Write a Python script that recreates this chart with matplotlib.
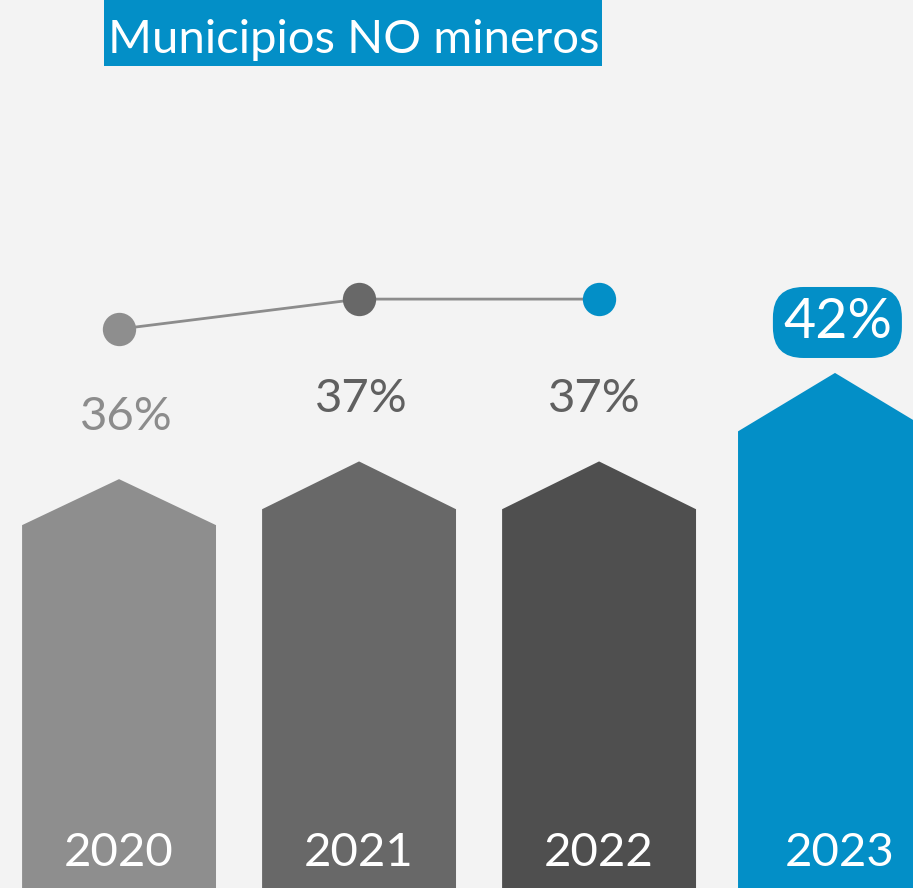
import matplotlib
matplotlib.use("Agg")
import matplotlib.pyplot as plt
from matplotlib.patches import Polygon, Rectangle

# Data
years = ["2020", "2021", "2022", "2023"]
shares = [36, 37, 37, 42]               # % of non-mining municipalities
trend_years = ["2020", "2021", "2022"]
trend_values = [36, 37, 37]
value_labels = ["36%", "37%", "37%", "42%"]
title = "Municipios NO mineros"

# Style
BG = "#f3f3f3"
BLUE = "#038fc7"
bar_colors = ["#8e8e8e", "#686868", "#4f4f4f", BLUE]
label_colors = ["#8c8c8c", "#606060", "#606060", "white"]
dot_colors = ["#8e8e8e", "#686868", BLUE]
bar_x = [0, 1, 2, 2.983]
tip_heights = [2.6, 2.7, 2.7, 3.3]
half_width = 0.404
FONT = "Lato"

plt.rcParams["font.family"] = [FONT, "DejaVu Sans"]

fig = plt.figure(figsize=(9.13, 8.88), dpi=100, facecolor=BG)
ax = fig.add_axes([0, 0, 1, 1])
ax.set_facecolor(BG)
ax.set_xlim(-0.496, 3.308)
ax.set_ylim(12.9, 12.9 + 888 / 17.7)
ax.axis("off")

# Arrow-shaped bars
for x, v, c, tip in zip(bar_x, shares, bar_colors, tip_heights):
    shoulder = v - tip
    pts = [(x - half_width, 0), (x - half_width, shoulder), (x, v),
           (x + half_width, shoulder), (x + half_width, 0)]
    ax.add_patch(Polygon(pts, closed=True, facecolor=c, edgecolor="none"))

# Value labels
label_dx = [0.03, 0.01, -0.02, 0.01]
for x, dx, v, lab, c in zip(bar_x, label_dx, shares, value_labels, label_colors):
    if c != "white":
        ax.text(x + dx, v + 3.5, lab, ha="center", va="center",
                fontsize=34, color=c)
    else:
        ax.text(x + dx, v + 2.85, lab, ha="center", va="center",
                fontsize=40, color=c,
                bbox=dict(boxstyle="round,pad=0.18,rounding_size=0.55",
                          facecolor=BLUE, edgecolor="none"))

# Year labels inside the bars
year_dx = [0, 0, 0, 0.02]
for x, dx, y in zip(bar_x, year_dx, years):
    ax.text(x + dx, 0.039, y, transform=ax.get_xaxis_transform(), ha="center",
            va="center", fontsize=34, color="white")

# Trend line on its own scale
ax2 = ax.twinx()
ax2.set_position([0, 0, 1, 1])
ax2.set_ylim(17.37, 17.37 + 888 / 30)
ax2.set_xlim(ax.get_xlim())
ax2.axis("off")
xs = [bar_x[years.index(y)] for y in trend_years]
ax2.plot(xs, trend_values, color="#8c8c8c", lw=2, zorder=1)
for x, v, c in zip(xs, trend_values, dot_colors):
    ax2.plot(x, v, "o", ms=24, color=c, mec="none", zorder=2)

# Title banner
fig.patches.append(Rectangle((104 / 913, 1 - 66 / 888), 498 / 913, 66 / 888,
                             transform=fig.transFigure, facecolor=BLUE,
                             edgecolor="none", zorder=0))
fig.text(108 / 913, 1 - 53 / 888, title, ha="left", va="baseline",
         fontsize=34, color="white")

fig.savefig("out.png", dpi=100, facecolor=BG)
